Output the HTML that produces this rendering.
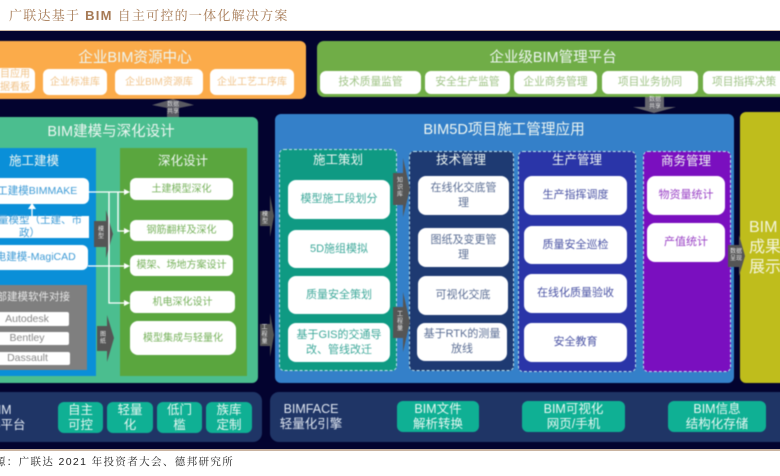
<!DOCTYPE html>
<html lang="zh"><head><meta charset="utf-8"><style>
html,body{margin:0;padding:0;background:#fff}
#p{position:relative;width:780px;height:476px;overflow:hidden;background:#fff;font-family:"Liberation Sans","Noto Sans CJK SC",sans-serif}
#d{position:absolute;left:0;top:31px;width:780px;height:418px;background:#03032f;overflow:hidden}
#f{position:absolute;left:0;top:-31px;width:780px;height:476px;filter:blur(.6px)}
.b,.t{position:absolute;box-sizing:border-box;display:flex;align-items:center;justify-content:center;text-align:center}
.b{background:#fff;border-radius:6px;font-size:11px;line-height:15px}
.t{color:#eef6f2;white-space:nowrap}
.o{color:#f1c48b;font-size:10px;line-height:13px}.g{color:#a0c487;font-size:10.7px}.l{color:#77b25c;font-size:10px}.c{color:#3fa99b}.s{color:#5c6f95}.r{color:#4b54a5}.u{color:#9a42c6}.e{color:#3e9bd6;font-size:10.5px}.y{color:#888;font-size:10.5px}
.p{position:absolute;box-sizing:border-box}
.d{border:1px dashed #bfe3ea;border-radius:5px}
.m{position:absolute;background:#0fb094;color:#e6f7f2;border-radius:6px;font-size:12.5px;line-height:15px;display:flex;align-items:center;justify-content:center;text-align:center}
.v{position:absolute;color:#e8e8e8;font-size:6px;line-height:7px;text-align:center}
svg{position:absolute;left:0;top:0}
</style></head><body><div id="p">
<div style="position:absolute;left:9px;top:7px;font:13px/18px 'Liberation Sans','Noto Serif CJK SC',serif;color:#a67a55;letter-spacing:1.25px;white-space:nowrap">广联达基于 <b>BIM</b> 自主可控的一体化解决方案</div>
<div style="position:absolute;left:0;top:30px;width:780px;height:1px;background:#cdb8a5"></div>
<div id="d"><div id="f">

<div class="p" style="left:-20px;top:41px;width:326px;height:58px;background:#fbab4a;border-radius:6px"></div>
<div class="t" style="left:35px;top:47px;width:200px;height:18px;font-size:14.6px">企业BIM资源中心</div>
<div class="b o" style="left:-15px;top:68px;width:50px;height:25px">项目应用<br>数据看板</div>
<div class="b o" style="left:43px;top:69px;width:64px;height:26px">企业标准库</div>
<div class="b o" style="left:115px;top:69px;width:88px;height:26px">企业BIM资源库</div>
<div class="b o" style="left:210px;top:69px;width:84px;height:26px">企业工艺工序库</div>

<div class="p" style="left:317px;top:41px;width:480px;height:56px;background:#70ad47;border-radius:7px"></div>
<div class="t" style="left:453px;top:47px;width:200px;height:18px;font-size:14.5px">企业级BIM管理平台</div>
<div class="b g" style="left:320px;top:71px;width:101px;height:23px">技术质量监管</div>
<div class="b g" style="left:425px;top:71px;width:85px;height:23px">安全生产监管</div>
<div class="b g" style="left:514px;top:71px;width:83px;height:23px">企业商务管理</div>
<div class="b g" style="left:602px;top:71px;width:96px;height:23px">项目业务协同</div>
<div class="b g" style="left:703px;top:71px;width:90px;height:23px;justify-content:flex-start;padding-left:9px">项目指挥决策</div>

<div class="p" style="left:-20px;top:117px;width:278px;height:266px;background:#4bbe8f;border-radius:6px"></div>
<div class="t" style="left:11px;top:121px;width:200px;height:18px;font-size:14.5px">BIM建模与深化设计</div>
<div class="p" style="left:-28px;top:148px;width:124px;height:228px;background:#0a8fd8"></div>
<div class="p" style="left:120px;top:148px;width:127px;height:228px;background:#5aa63e"></div>
<div class="t" style="left:0;top:150px;width:68px;height:18px;font-size:12.5px">施工建模</div>
<div class="t" style="left:133px;top:150px;width:100px;height:18px;font-size:12.5px">深化设计</div>
<div class="b e" style="left:-25px;top:178px;width:114px;height:26px">施工建模BIMMAKE</div>
<div class="b e" style="left:-30px;top:216px;width:119px;height:22px;border-radius:0;line-height:13px">工程量模型（土建、市<br>政）</div>
<div class="b e" style="left:-27px;top:245px;width:115px;height:25px">机电建模-MagiCAD</div>
<div class="p" style="left:-20px;top:285px;width:107px;height:85px;background:#7f7f7f"></div>
<div class="t" style="left:-22px;top:287px;width:100px;height:18px;font-size:10.5px;color:#e6e6e6">外部建模软件对接</div>
<div class="b y" style="left:-15px;top:312px;width:84px;height:14px;border-radius:2px">Autodesk</div>
<div class="b y" style="left:-15px;top:332px;width:84px;height:13px;border-radius:2px">Bentley</div>
<div class="b y" style="left:-15px;top:352px;width:85px;height:13px;border-radius:2px">Dassault</div>
<div class="b l" style="left:130px;top:178px;width:103px;height:22px">土建模型深化</div>
<div class="b l" style="left:130px;top:220px;width:103px;height:21px">钢筋翻样及深化</div>
<div class="b l" style="left:130px;top:255px;width:103px;height:21px">模架、场地方案设计</div>
<div class="b l" style="left:130px;top:291px;width:105px;height:22px">机电深化设计</div>
<div class="b l" style="left:130px;top:321px;width:106px;height:34px;border-radius:8px">模型集成与轻量化</div>

<div class="p" style="left:275px;top:114px;width:459px;height:269px;background:#3480c9;border-radius:6px"></div>
<div class="t" style="left:404px;top:119px;width:200px;height:18px;font-size:14.6px">BIM5D项目施工管理应用</div>
<div class="p d" style="left:279px;top:149px;width:118px;height:222px;background:#0f9a83"></div>
<div class="p d" style="left:409px;top:151px;width:105px;height:220px;background:#1e3a72"></div>
<div class="p d" style="left:518px;top:151px;width:118px;height:221px;background:#2a35a8"></div>
<div class="p d" style="left:643px;top:151px;width:88px;height:221px;background:#7a0fbf"></div>
<div class="t" style="left:288px;top:149px;width:100px;height:18px;font-size:12.5px">施工策划</div>
<div class="t" style="left:411px;top:149px;width:100px;height:18px;font-size:12.5px">技术管理</div>
<div class="t" style="left:527px;top:149px;width:100px;height:18px;font-size:12.5px">生产管理</div>
<div class="t" style="left:636px;top:150px;width:100px;height:18px;font-size:12.5px">商务管理</div>
<div class="b c" style="left:288px;top:180px;width:102px;height:39px;border-radius:8px">模型施工段划分</div>
<div class="b c" style="left:288px;top:230px;width:102px;height:38px;border-radius:8px">5D施组模拟</div>
<div class="b c" style="left:288px;top:276px;width:102px;height:38px;border-radius:8px">质量安全策划</div>
<div class="b c" style="left:288px;top:323px;width:102px;height:39px;border-radius:8px">基于GIS的交通导<br>改、管线改迁</div>
<div class="b s" style="left:418px;top:176px;width:91px;height:39px;border-radius:8px">在线化交底管<br>理</div>
<div class="b s" style="left:418px;top:228px;width:91px;height:39px;border-radius:8px">图纸及变更管<br>理</div>
<div class="b s" style="left:418px;top:276px;width:90px;height:39px;border-radius:8px">可视化交底</div>
<div class="b s" style="left:417px;top:323px;width:90px;height:38px;border-radius:8px">基于RTK的测量<br>放线</div>
<div class="b r" style="left:524px;top:176px;width:103px;height:39px;border-radius:8px">生产指挥调度</div>
<div class="b r" style="left:524px;top:226px;width:103px;height:38px;border-radius:8px">质量安全巡检</div>
<div class="b r" style="left:524px;top:274px;width:103px;height:39px;border-radius:8px">在线化质量验收</div>
<div class="b r" style="left:524px;top:323px;width:103px;height:39px;border-radius:8px">安全教育</div>
<div class="b u" style="left:647px;top:176px;width:78px;height:39px;border-radius:8px">物资量统计</div>
<div class="b u" style="left:647px;top:223px;width:78px;height:39px;border-radius:8px">产值统计</div>

<div class="p" style="left:740px;top:112px;width:60px;height:271px;background:#bfbd1c;border-radius:6px"></div>
<div style="position:absolute;left:749px;top:218px;color:#f4f5dc;font-size:16px;line-height:20px;white-space:nowrap">BIM<br>成果<br>展示</div>

<svg width="780" height="476" fill="#555">
<polygon points="167,117 167,108 152,105 173,99 194,105 179,108 179,117" fill="#5a5a62"/>
<polygon points="645,97 645,107 633,107 654,113 676,107 664,107 664,97" fill="#66666e"/>
<polygon points="94,221 106,221 106,210 113,234 106,258 106,247 94,247"/>
<polygon points="97,326 107,326 107,315 114,338 107,362 107,351 97,351"/>
<polygon points="260,211 270,211 270,195 274,216 270,237 270,226 260,226"/>
<polygon points="260,324 270,324 270,313 274,335 270,357 270,346 260,346"/>
<polygon points="393,173 403,173 403,158 410,189 403,217 403,205 393,205"/>
<polygon points="393,307 403,307 403,292 410,322 403,352 403,338 393,338"/>
<polygon points="728,245 739,245 739,235 745,256 739,276 739,267 728,267"/>
<g stroke="#fff" stroke-width="1.3" fill="none">
<path d="M89 192H126M109 192V303H126M118 192V231H126M88 266H126M32 216V207"/>
</g>
<g fill="#fff">
<polygon points="124,189 130,192 124,195"/><polygon points="124,228 130,231 124,234"/><polygon points="124,263 130,266 124,269"/><polygon points="124,300 130,303 124,306"/>
<polygon points="28,209 32,203 36,209"/>
</g>
</svg>
<div class="v" style="left:162px;top:102px;width:22px;color:#ddd">数据<br>共享</div>
<div class="v" style="left:644px;top:97px;width:22px;color:#ddd">数据<br>共享</div>
<div class="v" style="left:96px;top:227px;width:10px">模<br>型</div>
<div class="v" style="left:98px;top:332px;width:10px">图<br>纸</div>
<div class="v" style="left:260px;top:212px;width:10px">模<br>型</div>
<div class="v" style="left:260px;top:325px;width:9px">工<br>程<br>量</div>
<div class="v" style="left:395px;top:178px;width:10px">知<br>识<br>库</div>
<div class="v" style="left:395px;top:312px;width:10px">工<br>程<br>量</div>
<div class="v" style="left:727px;top:249px;width:18px">数据<br>呈现</div>

<div class="p" style="left:-20px;top:392px;width:282px;height:50px;background:#1f3566;border-radius:9px"></div>
<div class="p" style="left:270px;top:392px;width:530px;height:50px;background:#1f3566;border-radius:9px"></div>
<div class="t" style="left:-40px;top:402px;width:81px;height:31px;font-size:12.5px;line-height:15px;color:#dfe6f0">BIM<br>图形平台</div>
<div class="m" style="left:58px;top:402px;width:45px;height:31px">自主<br>可控</div>
<div class="m" style="left:107px;top:402px;width:46px;height:31px">轻量<br>化</div>
<div class="m" style="left:157px;top:402px;width:45px;height:31px">低门<br>槛</div>
<div class="m" style="left:206px;top:402px;width:46px;height:31px">族库<br>定制</div>
<div class="t" style="left:271px;top:402px;width:80px;height:31px;font-size:12.5px;line-height:15px;color:#dfe6f0;display:block">BIMFACE<br>轻量化引擎</div>
<div class="m" style="left:397px;top:401px;width:82px;height:31px">BIM文件<br>解析转换</div>
<div class="m" style="left:522px;top:401px;width:103px;height:31px">BIM可视化<br>网页/手机</div>
<div class="m" style="left:668px;top:401px;width:98px;height:31px">BIM信息<br>结构化存储</div>
</div></div>
<div style="position:absolute;left:0;top:449px;width:780px;height:2px;background:#c9b3a0"></div>
<div style="position:absolute;left:-17px;top:454px;font:10.5px/16px 'Liberation Sans','Noto Serif CJK SC',serif;color:#222;letter-spacing:1.37px;white-space:nowrap">来源：广联达 2021 年投资者大会、德邦研究所</div>
</div></body></html>
